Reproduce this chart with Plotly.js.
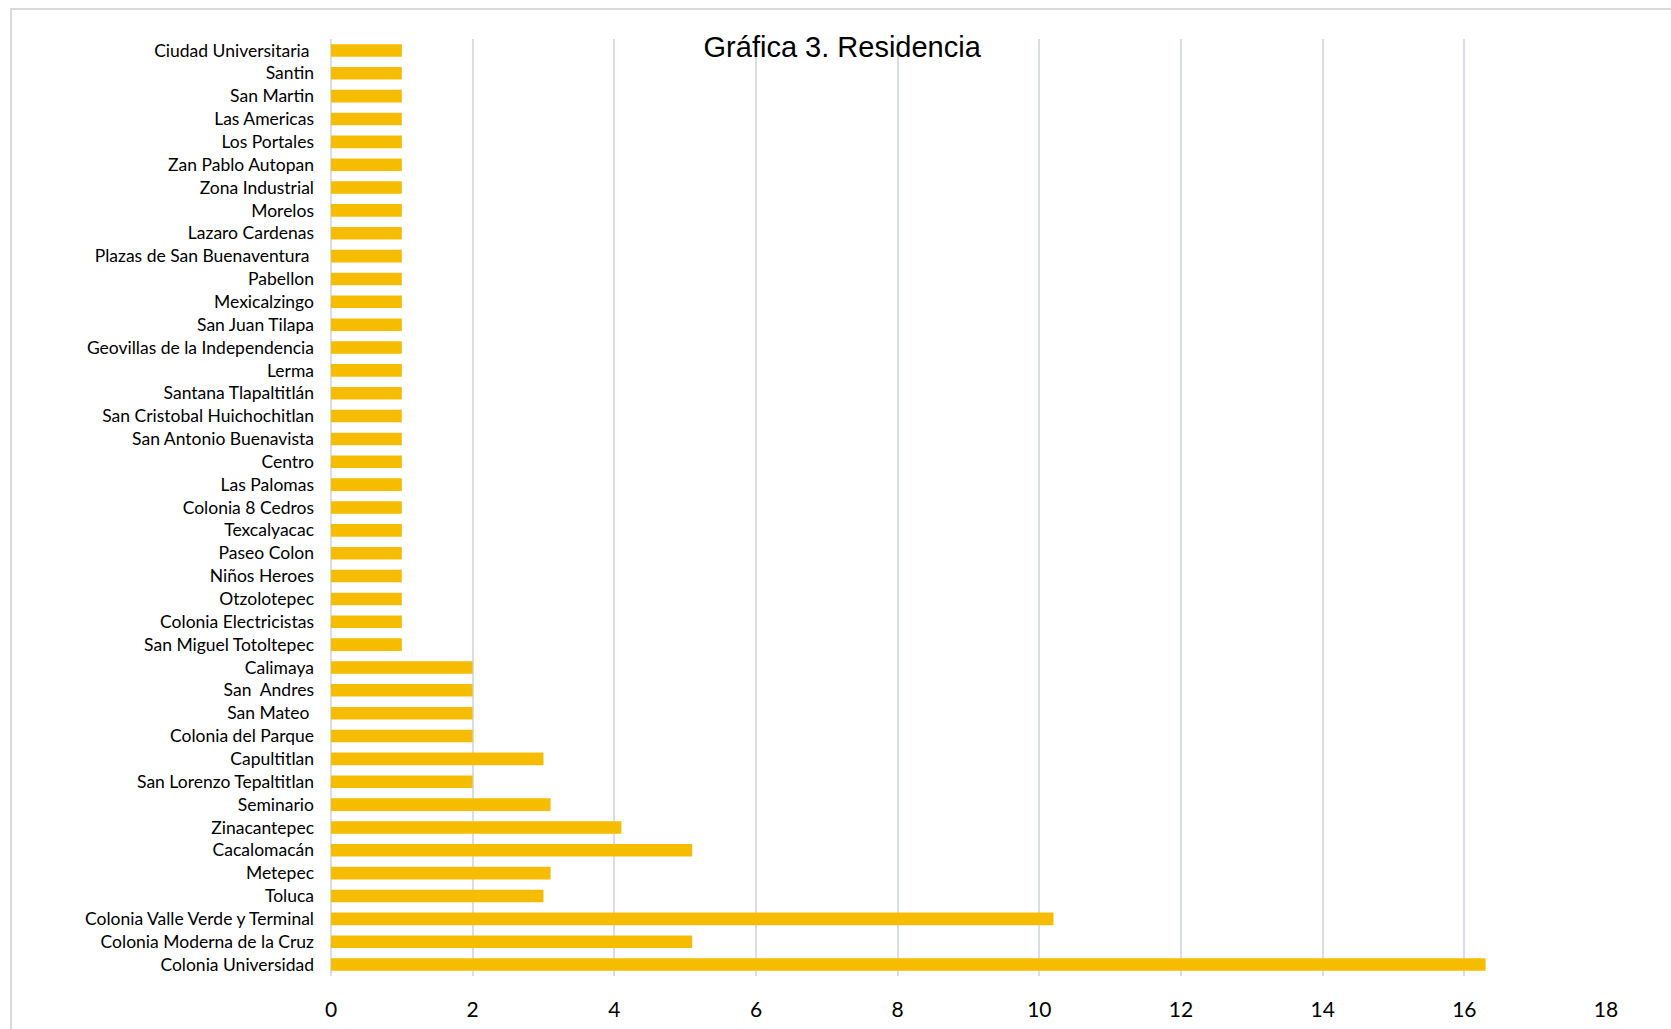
<!DOCTYPE html>
<html>
<head>
<meta charset="utf-8">
<script src="https://cdn.plot.ly/plotly-3.0.1.min.js"></script>
<style>
  html, body { margin:0; padding:0; background:#fff; }
  #frame { position:absolute; left:10px; top:8px; width:1700px; height:1100px; border:2px solid #d9d9d9; box-sizing:border-box; pointer-events:none; }
  #chart { position:absolute; left:0; top:0; width:1671px; height:1029px; }
</style>
</head>
<body>
<div id="chart"></div>
<div id="frame"></div>
<script>
const categories = [
  "Ciudad Universitaria\u00a0", "Santin", "San Martin", "Las Americas", "Los Portales",
  "Zan Pablo Autopan", "Zona Industrial", "Morelos", "Lazaro Cardenas",
  "Plazas de San Buenaventura\u00a0", "Pabellon", "Mexicalzingo", "San Juan Tilapa",
  "Geovillas de la Independencia", "Lerma", "Santana Tlapaltitlán",
  "San Cristobal Huichochitlan", "San Antonio Buenavista", "Centro", "Las Palomas",
  "Colonia 8 Cedros", "Texcalyacac", "Paseo Colon", "Niños Heroes", "Otzolotepec",
  "Colonia Electricistas", "San Miguel Totoltepec", "Calimaya", "San\u00a0 Andres",
  "San Mateo\u00a0", "Colonia del Parque", "Capultitlan", "San Lorenzo Tepaltitlan",
  "Seminario", "Zinacantepec", "Cacalomacán", "Metepec", "Toluca",
  "Colonia Valle Verde y Terminal", "Colonia Moderna de la Cruz", "Colonia Universidad"
];
const values = [
  1, 1, 1, 1, 1,
  1, 1, 1, 1,
  1, 1, 1, 1,
  1, 1, 1,
  1, 1, 1, 1,
  1, 1, 1, 1, 1,
  1, 1, 2, 2,
  2, 2, 3, 2,
  3.1, 4.1, 5.1, 3.1, 3,
  10.2, 5.1, 16.3
];
const xTicks = [0, 2, 4, 6, 8, 10, 12, 14, 16, 18];
const chartTitle = "Gráfica 3. Residencia";

const trace = {
  type: "bar",
  orientation: "h",
  y: categories,
  x: values,
  marker: { color: "#f6bd00", line: { width: 0 } },
  hoverinfo: "x+y"
};

const layout = {
  width: 1671,
  height: 1029,
  margin: { l: 331, r: 65, t: 39, b: 53, pad: 0 },
  paper_bgcolor: "rgba(0,0,0,0)",
  plot_bgcolor: "#ffffff",
  showlegend: false,
  bargap: 0.45,
  title: {
    text: chartTitle,
    font: { family: "Liberation Sans, Arial, sans-serif", size: 29, color: "#000000" },
    x: 0.504, xref: "container", xanchor: "center",
    y: 0.954, yref: "container", yanchor: "middle"
  },
  xaxis: {
    range: [0, 18],
    tickvals: xTicks,
    ticktext: xTicks.map(String),
    showgrid: true,
    gridcolor: "#d9dde6",
    gridwidth: 2,
    zeroline: true,
    zerolinecolor: "#d9dde6",
    zerolinewidth: 2,
    showline: false,
    ticks: "",
    ticklabelstandoff: 19,
    tickfont: { family: "Lato, 'Open Sans', sans-serif", size: 21, color: "#000000" },
    fixedrange: true
  },
  yaxis: {
    type: "category",
    autorange: "reversed",
    showgrid: false,
    zeroline: false,
    showline: false,
    ticks: "",
    ticklabelstandoff: 16,
    tickfont: { family: "Lato, 'Open Sans', sans-serif", size: 17.5, color: "#000000" },
    fixedrange: true
  }
};

Plotly.newPlot("chart", [trace], layout, { displayModeBar: false, staticPlot: true });
</script>
</body>
</html>
